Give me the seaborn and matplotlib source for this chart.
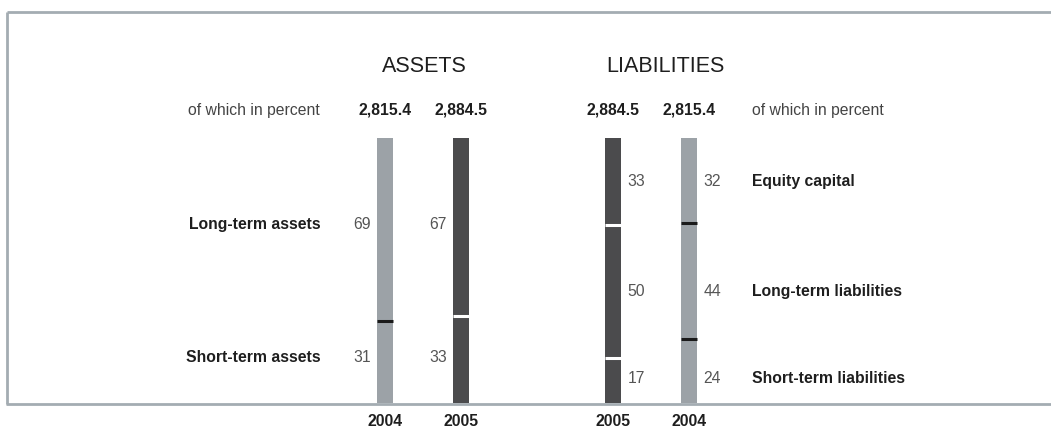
import matplotlib
matplotlib.use("Agg")
import matplotlib.pyplot as plt
import seaborn as sns
import pandas as pd

# ---- data ----
slots = ["A2004", "A2005", "gap", "L2005", "L2004"]
years = ["2004", "2005", "2005", "2004"]
totals = ["2,815.4", "2,884.5", "2,884.5", "2,815.4"]

asset_labels = ["Long-term assets", "Short-term assets"]
asset_long = [69, 67]    # 2004, 2005
asset_short = [31, 33]   # 2004, 2005

liab_labels = ["Equity capital", "Long-term liabilities", "Short-term liabilities"]
liab_equity = [32, 33]   # 2004, 2005
liab_long = [44, 50]
liab_short = [24, 17]

header_left = "of which in percent"
header_right = "of which in percent"
title_assets = "ASSETS"
title_liab = "LIABILITIES"

# ---- style ----
sns.set_theme(style="white")
plt.rcParams["font.family"] = ["Liberation Sans", "DejaVu Sans"]

LIGHT = "#9aa2a9"
DARK = "#4b4b4d"
FRAME = "#a4acb2"
TXT = "#1e1e1e"
NUM = "#555555"

W, H = 1051, 430
fig = plt.figure(figsize=(W / 100, H / 100), dpi=100)
ax = fig.add_axes([0, 0, 1, 1])

x0_px, step_px = 385.0, 75.9
y0_px, unit_px = 403.0, 2.65
bw = 16 / step_px

def px_x(p):
    return (p - x0_px) / step_px

def px_y(p):
    return (y0_px - p) / unit_px

# bar records
rows = []
bar_slots = ["A2004", "A2005", "L2005", "L2004"]
segs = {
    "A2004": [asset_short[0], asset_long[0]],
    "A2005": [asset_short[1], asset_long[1]],
    "L2005": [liab_short[1], liab_long[1], liab_equity[1]],
    "L2004": [liab_short[0], liab_long[0], liab_equity[0]],
}
for s, yr in zip(bar_slots, years):
    rows.append({"slot": s, "pct": sum(segs[s]), "year": yr})
df = pd.DataFrame(rows)

sns.barplot(data=df, x="slot", y="pct", hue="year", order=slots,
            palette={"2004": LIGHT, "2005": DARK}, dodge=False,
            width=bw, legend=False, ax=ax, linewidth=0, errorbar=None)

# dividers
for s, yr in zip(bar_slots, years):
    xi = slots.index(s)
    cum = 0
    col = "#1a1a1a" if yr == "2004" else "white"
    for v in segs[s][:-1]:
        cum += v
        ax.hlines(cum, xi - bw / 2, xi + bw / 2, colors=col, lw=2.2, zorder=5)

ax.set_xlim(px_x(0), px_x(W))
ax.set_ylim(px_y(H), px_y(0))
ax.axis("off")

FS = 11.3
# frame
fl = dict(color=FRAME, lw=2, solid_capstyle="butt", zorder=1)
ax.plot([px_x(7), px_x(W + 5)], [px_y(12), px_y(12)], **fl)
ax.plot([px_x(7), px_x(7)], [px_y(12), px_y(404)], **fl)
ax.plot([px_x(6), px_x(W + 5)], [px_y(403.5), px_y(403.5)], **fl)

# titles
ax.text(px_x(424), px_y(66), title_assets, ha="center", va="center",
        fontsize=15.5, color=TXT)
ax.text(px_x(665), px_y(66), title_liab, ha="center", va="center",
        fontsize=15.5, color=TXT)

# header row
ax.text(px_x(320), px_y(110), header_left, ha="right", va="center",
        fontsize=FS, color="#444444")
ax.text(px_x(752), px_y(110), header_right, ha="left", va="center",
        fontsize=FS, color="#444444")
for s, t, yr in zip(bar_slots, totals, years):
    xi = slots.index(s)
    ax.text(xi, px_y(110), t, ha="center", va="center", fontsize=FS,
            fontweight="bold", color=TXT)
    ax.text(xi, px_y(422), yr, ha="center", va="center", fontsize=FS,
            fontweight="bold", color=TXT)

# asset labels (positioned at centers of 2005 segments)
a05 = segs["A2005"]
a_cent = [a05[0] + a05[1] / 2 + 0.7, a05[0] / 2 + 0.5]
for lab, yc in zip(asset_labels, a_cent):
    ax.text(px_x(321), yc, lab, ha="right", va="center", fontsize=FS,
            fontweight="bold", color=TXT)
for s, vals in (("A2004", [asset_long[0], asset_short[0]]),
                ("A2005", [asset_long[1], asset_short[1]])):
    xi = slots.index(s)
    for v, yc in zip(vals, a_cent):
        ax.text(xi - bw / 2 - 6 / step_px, yc, str(v), ha="right",
                va="center", fontsize=FS, color=NUM)

# liability labels (centers of 2005 segments)
l05 = segs["L2005"]
l_cent = [l05[0] + l05[1] + l05[2] / 2, l05[0] + l05[1] / 2, l05[0] / 2 + 0.8]
for lab, yc in zip(liab_labels, l_cent):
    ax.text(px_x(752), yc, lab, ha="left", va="center", fontsize=FS,
            fontweight="bold", color=TXT)
for s, vals in (("L2005", [liab_equity[1], liab_long[1], liab_short[1]]),
                ("L2004", [liab_equity[0], liab_long[0], liab_short[0]])):
    xi = slots.index(s)
    for v, yc in zip(vals, l_cent):
        ax.text(xi + bw / 2 + 7 / step_px, yc, str(v), ha="left",
                va="center", fontsize=FS, color=NUM)

fig.savefig("out.png", dpi=100)
